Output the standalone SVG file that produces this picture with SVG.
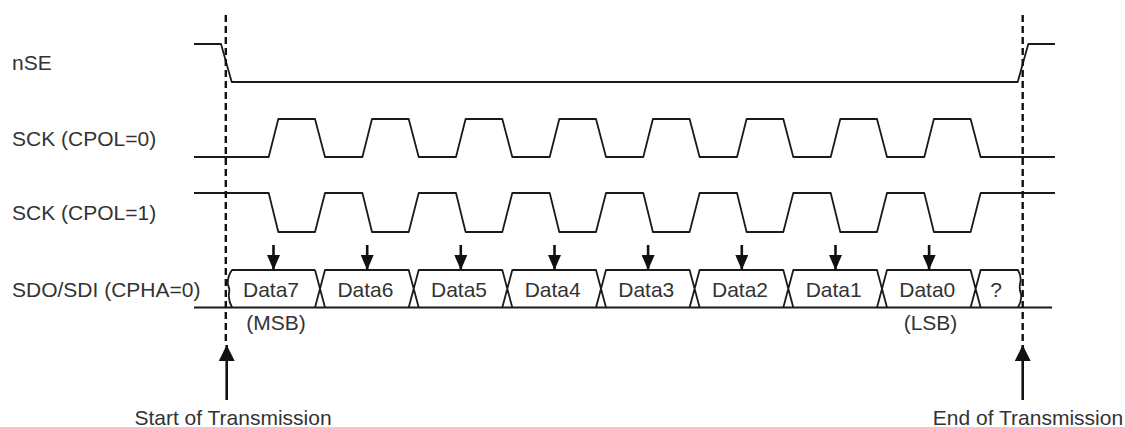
<svg xmlns="http://www.w3.org/2000/svg" width="1125" height="427" viewBox="0 0 1125 427">
<defs>
<style>
.sig{fill:none;stroke:#1a1a1a;stroke-width:1.8;stroke-linejoin:round}
.dash{fill:none;stroke:#111;stroke-width:2.4;stroke-dasharray:7 4}
.arr{fill:none;stroke:#111;stroke-width:2.6}
.lbl{font-family:"Liberation Sans",Arial,sans-serif;font-size:21px;fill:#333}
.mid{text-anchor:middle}
</style>
<marker id="ahS" viewBox="0 0 15 13" refX="15" refY="6.5" markerWidth="15" markerHeight="13" markerUnits="userSpaceOnUse" orient="auto">
<path d="M0,0 L15,6.5 L0,13 Z" fill="#111"/>
</marker>
<marker id="ahL" viewBox="0 0 16 16" refX="16" refY="8" markerWidth="16" markerHeight="16" markerUnits="userSpaceOnUse" orient="auto">
<path d="M0,0 L16,8 L0,16 Z" fill="#111"/>
</marker>
</defs>
<rect width="1125" height="427" fill="#fff"/>

<g id="labels">
<text class="lbl" x="12" y="70">nSE</text>
<text class="lbl" x="12" y="146">SCK (CPOL=0)</text>
<text class="lbl" x="12" y="219.5">SCK (CPOL=1)</text>
<text class="lbl" x="12" y="297">SDO/SDI (CPHA=0)</text>
</g>

<g id="nSE">
<path class="sig" d="M194,44 L221,44 L231.7,82 L1017.7,82 L1028.3,44 L1055,44"/>
</g>

<g id="SCK_CPOL0">
<path class="sig" d="M194,157 L268.7,157 L278.3,119 L315,119 L325,157 L362.4,157 L372,119 L408.7,119 L418.7,157 L456,157 L465.6,119 L502.3,119 L512.3,157 L549.7,157 L559.3,119 L596,119 L606,157 L643.3,157 L652.9,119 L689.6,119 L699.6,157 L737,157 L746.6,119 L783.3,119 L793.3,157 L830.7,157 L840.3,119 L877,119 L887,157 L924.3,157 L933.9,119 L970.6,119 L980.6,157 L1055,157"/>
</g>

<g id="SCK_CPOL1">
<path class="sig" d="M194,193 L268.7,193 L278.3,232 L315,232 L325,193 L362.4,193 L372,232 L408.7,232 L418.7,193 L456,193 L465.6,232 L502.3,232 L512.3,193 L549.7,193 L559.3,232 L596,232 L606,193 L643.3,193 L652.9,232 L689.6,232 L699.6,193 L737,193 L746.6,232 L783.3,232 L793.3,193 L830.7,193 L840.3,232 L877,232 L887,193 L924.3,193 L933.9,232 L970.6,232 L980.6,193 L1055,193"/>
</g>

<g id="SDO_SDI">
<path class="sig" d="M194,307.5 L1052,307.5"/>
<path class="sig" d="M232,307.5 Q228,300 229,293 Q230,289 228,285 Q227,277 232,270 L315,270"/>
<path class="sig" d="M315,270 L325,307.5 M315,307.5 L325,270 L408.7,270 L418.7,307.5 M408.7,307.5 L418.7,270 L502.3,270 L512.3,307.5 M502.3,307.5 L512.3,270 L596,270 L606,307.5 M596,307.5 L606,270 L689.6,270 L699.6,307.5 M689.6,307.5 L699.6,270 L783.3,270 L793.3,307.5 M783.3,307.5 L793.3,270 L877,270 L887,307.5 M877,307.5 L887,270 L970.6,270 L980.6,307.5 M970.6,307.5 L980.6,270 L1018,270 Q1022,277 1020,284 Q1019,289 1021,294 Q1022,301 1018,307.5"/>
<text class="lbl mid" x="271" y="297">Data7</text>
<text class="lbl mid" x="365.4" y="297">Data6</text>
<text class="lbl mid" x="459" y="297">Data5</text>
<text class="lbl mid" x="552.7" y="297">Data4</text>
<text class="lbl mid" x="646.3" y="297">Data3</text>
<text class="lbl mid" x="740" y="297">Data2</text>
<text class="lbl mid" x="833.7" y="297">Data1</text>
<text class="lbl mid" x="927.3" y="297">Data0</text>
<text class="lbl mid" x="996" y="297">?</text>
<text class="lbl mid" x="276" y="330">(MSB)</text>
<text class="lbl mid" x="930.5" y="330">(LSB)</text>
</g>

<g id="connectors">
<path class="dash" d="M225.8,15 L225.8,345"/>
<path class="dash" d="M1022.7,15 L1022.7,345"/>
<path class="arr" d="M273.5,245 L273.5,270" marker-end="url(#ahS)"/>
<path class="arr" d="M367.2,245 L367.2,270" marker-end="url(#ahS)"/>
<path class="arr" d="M460.8,245 L460.8,270" marker-end="url(#ahS)"/>
<path class="arr" d="M554.5,245 L554.5,270" marker-end="url(#ahS)"/>
<path class="arr" d="M648.1,245 L648.1,270" marker-end="url(#ahS)"/>
<path class="arr" d="M741.8,245 L741.8,270" marker-end="url(#ahS)"/>
<path class="arr" d="M835.5,245 L835.5,270" marker-end="url(#ahS)"/>
<path class="arr" d="M929.1,245 L929.1,270" marker-end="url(#ahS)"/>
<path class="arr" d="M226.7,400 L226.7,345" marker-end="url(#ahL)"/>
<path class="arr" d="M1022.7,400 L1022.7,345" marker-end="url(#ahL)"/>
</g>

<g id="annotations">
<text class="lbl mid" x="233" y="425">Start of Transmission</text>
<text class="lbl mid" x="1028" y="425">End of Transmission</text>
</g>
</svg>
